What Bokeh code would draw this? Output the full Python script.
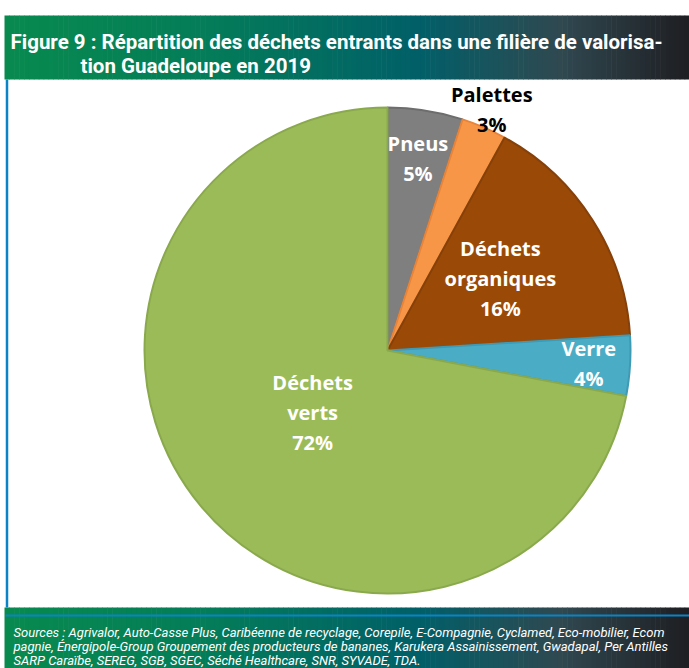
import numpy as np
from bokeh.plotting import figure
from bokeh.models import Range1d, ColumnDataSource
from bokeh.core.properties import value
from bokeh.embed import file_html
from bokeh.resources import INLINE

# ---- data ----
categories = ["Pneus", "Palettes", "Déchets organiques", "Verre", "Déchets verts"]
shares = [5, 3, 16, 4, 72]
label_lines = [["Pneus", "5%"], ["Palettes", "3%"], ["Déchets", "organiques", "16%"],
               ["Verre", "4%"], ["Déchets", "verts", "72%"]]
slice_colors = ["#7f7f7f", "#f79646", "#9a4a06", "#4bacc6", "#9bbb59"]
edge_colors = ["#6d6d6d", "#e8843a", "#86400a", "#3f9ab3", "#8aa94d"]
label_colors = ["white", "black", "white", "white", "white"]
label_radius_frac = [0.80, 1.08, 0.55, 0.83, 0.40]

title_lines = ["Figure 9 : Répartition des déchets entrants dans une filière de valorisa-",
               "tion Guadeloupe en 2019"]
source_lines = [
    "Sources : Agrivalor, Auto-Casse Plus, Caribéenne de recyclage, Corepile, E-Compagnie, Cyclamed, Eco-mobilier, Ecom",
    "pagnie, Énergipole-Group Groupement des producteurs de bananes, Karukera Assainissement, Gwadapal, Per Antilles",
    "SARP Caraïbe, SEREG, SGB, SGEC, Séché Healthcare, SNR, SYVADE, TDA.",
]

W, H = 689, 668
def Y(py):
    return H - py

p = figure(width=W, height=H, x_range=Range1d(0, W), y_range=Range1d(0, H),
           output_backend="svg", toolbar_location=None, min_border=0)
p.axis.visible = False
p.grid.visible = False
p.outline_line_color = None
p.background_fill_color = "white"
p.border_fill_color = "white"

# ---- gradient bands ----
stops_x = [0, 200, 420, 560, 689]
stops_c = [(8, 138, 78), (4, 125, 88), (1, 95, 104), (48, 72, 80), (30, 30, 34)]
n = 140
edges = np.linspace(4, W, n + 1)
cols = []
for i in range(n):
    xm = (edges[i] + edges[i + 1]) / 2
    rgb = [int(round(np.interp(xm, stops_x, [c[k] for c in stops_c]))) for k in range(3)]
    cols.append("#%02x%02x%02x" % tuple(rgb))
for top, bot in [(15, 79), (607, 668)]:
    src = ColumnDataSource(dict(left=edges[:-1], right=edges[1:] + 0.6,
                                top=[Y(top)] * n, bottom=[Y(bot)] * n, c=cols))
    p.quad(left="left", right="right", top="top", bottom="bottom", source=src,
           fill_color="c", line_color=None)

# ---- frame lines ----
p.segment(x0=[6.5], y0=[Y(79)], x1=[6.5], y1=[Y(607)], line_color="#0a84c6", line_width=2.5)
p.segment(x0=[5], y0=[Y(615)], x1=[W], y1=[Y(615)], line_color="#0a84c6", line_width=2)

# ---- title ----
p.text(x=[10, 80], y=[Y(41), Y(65)], text=title_lines, text_color="white",
       text_font=value("Roboto"), text_font_style="bold",
       text_font_size="20.5px", text_baseline="alphabetic", text_align="left")

# ---- sources ----
p.text(x=[13, 13, 13], y=[Y(632), Y(646), Y(660)], text=source_lines, text_color="white",
       text_font=value("Roboto"), text_font_style="italic",
       text_font_size="13px", text_baseline="alphabetic", text_align="left")

# ---- pie ----
cx, cy, R = 387, Y(350), 243
fr = np.array(shares, dtype=float) / sum(shares)
cum_end = np.cumsum(fr)
cum_start = cum_end - fr
start = np.pi / 2 - 2 * np.pi * cum_end
end = np.pi / 2 - 2 * np.pi * cum_start
psrc = ColumnDataSource(dict(start=start, end=end, fill=slice_colors, edge=edge_colors))
p.wedge(x=cx, y=cy, radius=R, start_angle="start", end_angle="end", source=psrc,
        fill_color="fill", line_color="edge", line_width=2)

# ---- labels ----
mid = np.pi / 2 - 2 * np.pi * (cum_start + fr / 2)
lx, ly, lt, lc = [], [], [], []
spacing = 30
for i, lines in enumerate(label_lines):
    r = label_radius_frac[i] * R
    x0 = cx + r * np.cos(mid[i])
    y0 = cy + r * np.sin(mid[i])
    k = len(lines)
    for j, t in enumerate(lines):
        lx.append(x0)
        ly.append(y0 + ((k - 1) / 2 - j) * spacing)
        lt.append(t)
        lc.append(label_colors[i])
p.text(x=lx, y=ly, text=lt, text_color=lc, text_font=value("Open Sans"),
       text_font_style="bold", text_font_size="20px", text_align="center",
       text_baseline="middle")

open("out.html", "w").write(file_html(p, INLINE))
